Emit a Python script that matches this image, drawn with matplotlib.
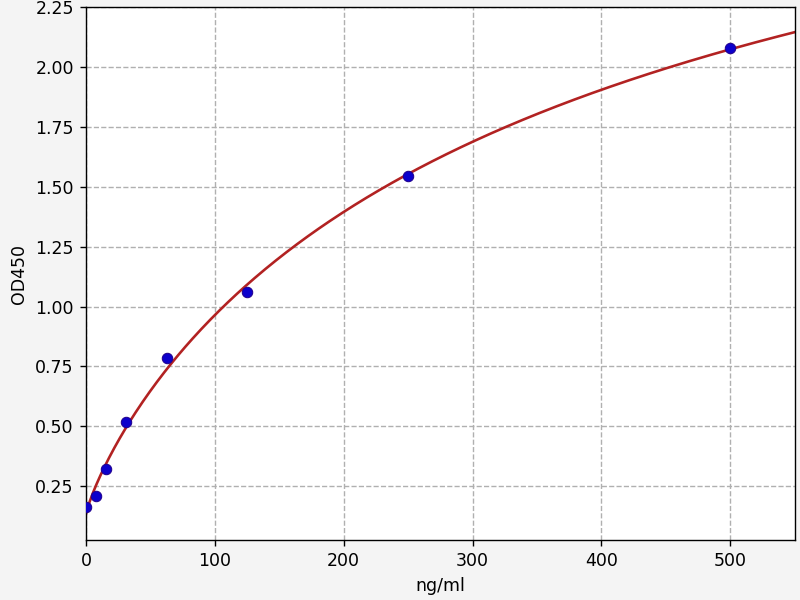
import numpy as np
import matplotlib
matplotlib.use("Agg")
import matplotlib.pyplot as plt

# standard concentrations (ng/ml) and measured OD450
conc = [0, 7.8, 15.6, 31.25, 62.5, 125, 250, 500]
od450 = [0.161, 0.208, 0.323, 0.516, 0.787, 1.062, 1.545, 2.081]

x = np.array(conc, dtype=float)
y = np.array(od450, dtype=float)


def four_pl(p, xv):
    a, b, c, d = p
    return d + (a - d) / (1 + (np.abs(xv) / abs(c)) ** b)


def fit_4pl(xv, yv, p0, iters=500):
    """Small Levenberg-Marquardt fit of the 4-parameter logistic curve"""
    p = np.array(p0, dtype=float)
    lam = 1e-2
    err = np.sum((four_pl(p, xv) - yv) ** 2)
    for _ in range(iters):
        r = four_pl(p, xv) - yv
        J = np.zeros((len(xv), len(p)))
        for k in range(len(p)):
            dp = np.zeros_like(p)
            dp[k] = 1e-6 * max(abs(p[k]), 1e-3)
            J[:, k] = (four_pl(p + dp, xv) - four_pl(p - dp, xv)) / (2 * dp[k])
        H = J.T @ J
        g = J.T @ r
        step = np.linalg.solve(H + lam * np.diag(np.diag(H)), -g)
        p_new = p + step
        err_new = np.sum((four_pl(p_new, xv) - yv) ** 2)
        if np.isfinite(err_new) and err_new < err:
            p, err = p_new, err_new
            lam = max(lam / 3, 1e-9)
        else:
            lam *= 4
    return p


params = fit_4pl(x, y, [0.16, 1.0, 400.0, 3.5])
xs = np.linspace(0, 550, 400)
ys = four_pl(params, xs)

# default 6.4x4.8 figure saved at 125 dpi -> 800x600
fig = plt.figure(figsize=(6.4, 4.8), dpi=125, facecolor="#f4f4f4")
ax = fig.add_axes([0.1075, 0.1, 0.886, 0.888])
ax.set_facecolor("white")

ax.plot(xs, ys, color="#b22222", linewidth=1.5, zorder=2)
ax.plot(x, y, "o", markersize=6, color="#0c00cc", markeredgecolor="#200090",
        markeredgewidth=0.6, zorder=3)

ax.set_xlim(0, 550)
ax.set_ylim(0.025, 2.25)
ax.set_yticks([0.25, 0.5, 0.75, 1.0, 1.25, 1.5, 1.75, 2.0, 2.25])
ax.grid(True, linestyle="--", color="#b0b0b0", linewidth=0.8)
ax.set_axisbelow(True)
ax.set_xlabel("ng/ml")
ax.set_ylabel("OD450")

fig.savefig("out.png", dpi=125, facecolor=fig.get_facecolor())
